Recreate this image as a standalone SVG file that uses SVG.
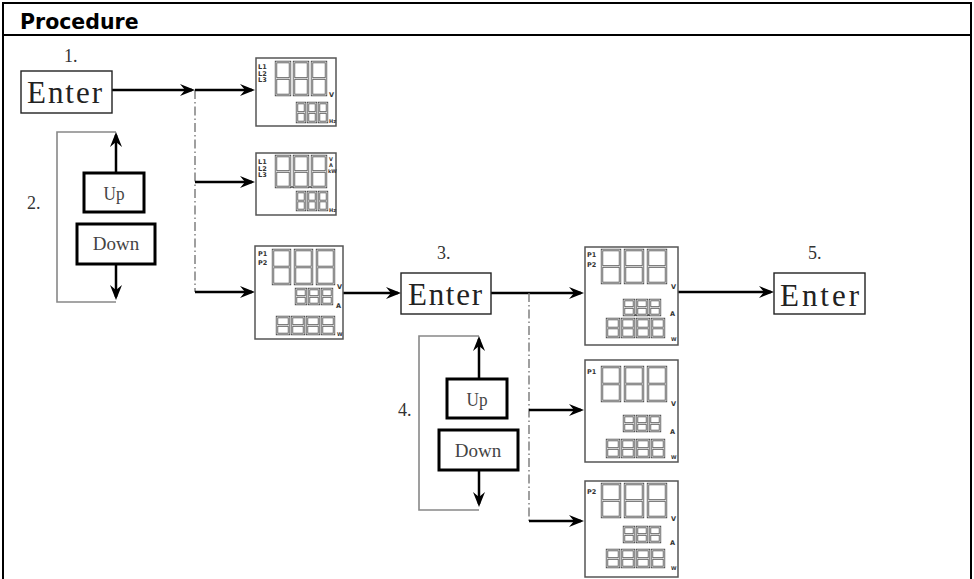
<svg xmlns="http://www.w3.org/2000/svg" xmlns:xlink="http://www.w3.org/1999/xlink" width="974" height="579" viewBox="0 0 974 579">
<defs>
<style>
.frame{fill:none;stroke:#000;stroke-width:2}
.hdr{font-family:"DejaVu Sans",Verdana,sans-serif;font-weight:bold;font-size:20.5px;fill:#000}
.num{font-family:"Liberation Serif","Times New Roman",serif;font-size:18px;fill:#333}
.ent{fill:#fff;stroke:#222;stroke-width:1.4}
.entt{font-family:"Liberation Serif","Times New Roman",serif;font-size:31px;fill:#222}
.btn{fill:#fff;stroke:#000;stroke-width:3}
.btnt{font-family:"Liberation Serif","Times New Roman",serif;font-size:19px;fill:#444;text-anchor:middle}
.disp{fill:#fff;stroke:#555;stroke-width:1.5}
.lbl{font-family:"DejaVu Sans",Verdana,sans-serif;font-weight:bold;font-size:6.5px;fill:#333}
.so{fill:none;stroke:#555;stroke-width:2.4;vector-effect:non-scaling-stroke}
.si{fill:none;stroke:#fff;stroke-width:0.7;vector-effect:non-scaling-stroke}
.dot{fill:#505050}
.arr{fill:none;stroke:#000;stroke-width:2.5;marker-end:url(#ah)}
.dd{fill:none;stroke:#777;stroke-width:1.4;stroke-dasharray:9 3 1.5 3}
.loop{fill:none;stroke:#888;stroke-width:1.6}
</style>
<marker id="ah" viewBox="0 0 15 12" markerWidth="15" markerHeight="12" refX="12" refY="6" orient="auto" markerUnits="userSpaceOnUse">
<path d="M0,0 L15,6 L0,12 L5,6 Z" fill="#000"/>
</marker>
<g id="dg"><path class="so" d="M0 0H1V1H0ZM0 .5H1"/><path class="si" d="M0 0H1V1H0ZM0 .5H1"/></g>
</defs>
<rect width="974" height="579" fill="#fff"/>
<g id="table">
<path class="frame" d="M3 579V3H971V579"/>
<path class="frame" d="M3 35H971"/>
<text class="hdr" x="20" y="29">Procedure</text>
</g>
<g id="labels">
<text class="num" x="64" y="62">1.</text>
<text class="num" x="27" y="209">2.</text>
<text class="num" x="437" y="259">3.</text>
<text class="num" x="398" y="416">4.</text>
<text class="num" x="808" y="259">5.</text>
</g>
<g id="connectors">
<path class="arr" d="M112 90H192"/>
<path class="dd" d="M195 90V292"/>
<path class="arr" d="M195 90H252"/>
<path class="arr" d="M195 182H252"/>
<path class="arr" d="M195 292H252"/>
<path class="arr" d="M343 293H398"/>
<path class="arr" d="M491 293H581"/>
<path class="dd" d="M529 293V521"/>
<path class="arr" d="M529 410H581"/>
<path class="arr" d="M529 521H581"/>
<path class="arr" d="M678 292H771"/>
<path class="loop" d="M116 132H57V302H116"/>
<path class="arr" d="M116 173V135"/>
<path class="arr" d="M116 264V297"/>
<path class="loop" d="M479 336H419V510H479"/>
<path class="arr" d="M479 379V339"/>
<path class="arr" d="M479 470V504"/>
</g>
<g id="enter1"><rect class="ent" x="21" y="71" width="91" height="42"/><text class="entt" x="27" y="103" textLength="75" lengthAdjust="spacing">Enter</text></g>
<g id="enter3"><rect class="ent" x="401" y="273" width="90" height="41"/><text class="entt" x="408" y="305" textLength="74" lengthAdjust="spacing">Enter</text></g>
<g id="enter5"><rect class="ent" x="774" y="273" width="91" height="41"/><text class="entt" x="780" y="306" textLength="79" lengthAdjust="spacing">Enter</text></g>
<g id="up2"><rect class="btn" x="84" y="173" width="60" height="39"/><text class="btnt" x="114" y="200" textLength="21" lengthAdjust="spacingAndGlyphs">Up</text></g>
<g id="down2"><rect class="btn" x="77" y="224" width="78" height="40"/><text class="btnt" x="116" y="250">Down</text></g>
<g id="up4"><rect class="btn" x="447" y="379" width="60" height="39"/><text class="btnt" x="477" y="406" textLength="21" lengthAdjust="spacingAndGlyphs">Up</text></g>
<g id="down4"><rect class="btn" x="439" y="430" width="79" height="40"/><text class="btnt" x="478" y="457">Down</text></g>
<g id="display1">
<rect class="disp" x="256" y="58" width="80" height="68"/>
<text class="lbl" x="258" y="69">L1</text><text class="lbl" x="258" y="75.5">L2</text><text class="lbl" x="258" y="82">L3</text>
<use href="#dg" transform="translate(276,62) scale(14,33)"/>
<use href="#dg" transform="translate(294,62) scale(14,33)"/>
<use href="#dg" transform="translate(312,62) scale(14,33)"/>
<text class="lbl" x="329" y="97">V</text>
<use href="#dg" transform="translate(297,103) scale(8,19)"/>
<use href="#dg" transform="translate(308,103) scale(8,19)"/>
<use href="#dg" transform="translate(319,103) scale(8,19)"/>
<text class="lbl" x="329" y="123" style="font-size:5px">Hz</text>
</g>
<g id="display2">
<rect class="disp" x="256" y="153" width="80" height="62"/>
<text class="lbl" x="258" y="164">L1</text><text class="lbl" x="258" y="170.5">L2</text><text class="lbl" x="258" y="177">L3</text>
<use href="#dg" transform="translate(276,156) scale(14,31)"/>
<use href="#dg" transform="translate(294,156) scale(14,31)"/>
<use href="#dg" transform="translate(312,156) scale(14,31)"/>
<circle class="dot" cx="292" cy="187" r="1"/><circle class="dot" cx="310" cy="187" r="1"/>
<text class="lbl" x="329" y="161" style="font-size:5px">V</text>
<text class="lbl" x="329" y="167" style="font-size:5px">A</text>
<text class="lbl" x="328" y="173" style="font-size:5px">kW</text>
<use href="#dg" transform="translate(297,192) scale(8,18)"/>
<use href="#dg" transform="translate(308,192) scale(8,18)"/>
<use href="#dg" transform="translate(319,192) scale(8,18)"/>
<text class="lbl" x="329" y="212" style="font-size:5px">Hz</text>
</g>
<g id="display3">
<rect class="disp" x="255" y="246" width="88" height="93"/>
<text class="lbl" x="258" y="256">P1</text><text class="lbl" x="258" y="265">P2</text>
<use href="#dg" transform="translate(273,250) scale(17,34)"/>
<use href="#dg" transform="translate(295,250) scale(17,34)"/>
<use href="#dg" transform="translate(317,250) scale(17,34)"/>
<text class="lbl" x="337" y="289">V</text>
<use href="#dg" transform="translate(296,289) scale(10,15)"/>
<use href="#dg" transform="translate(309,289) scale(10,15)"/>
<use href="#dg" transform="translate(322,289) scale(10,15)"/>
<text class="lbl" x="336" y="308">A</text>
<use href="#dg" transform="translate(277,317) scale(12,17)"/>
<use href="#dg" transform="translate(292,317) scale(12,17)"/>
<use href="#dg" transform="translate(307,317) scale(12,17)"/>
<use href="#dg" transform="translate(322,317) scale(12,17)"/>
<text class="lbl" x="337" y="336" style="font-size:5px">W</text>
</g>
<g id="display4">
<rect class="disp" x="585" y="247" width="93" height="98"/>
<text class="lbl" x="587" y="257">P1</text><text class="lbl" x="587" y="267">P2</text>
<use href="#dg" transform="translate(602,250) scale(18,33)"/>
<use href="#dg" transform="translate(625,250) scale(18,33)"/>
<use href="#dg" transform="translate(648,250) scale(18,33)"/>
<text class="lbl" x="671" y="289">V</text>
<use href="#dg" transform="translate(624,300) scale(10,15)"/>
<use href="#dg" transform="translate(637,300) scale(10,15)"/>
<use href="#dg" transform="translate(650,300) scale(10,15)"/>
<circle class="dot" cx="635.5" cy="315" r="0.9"/><circle class="dot" cx="648.5" cy="315" r="0.9"/>
<text class="lbl" x="670" y="316">A</text>
<use href="#dg" transform="translate(607,319) scale(12,18)"/>
<use href="#dg" transform="translate(622,319) scale(12,18)"/>
<use href="#dg" transform="translate(637,319) scale(12,18)"/>
<use href="#dg" transform="translate(652,319) scale(12,18)"/>
<text class="lbl" x="671" y="341" style="font-size:5px">W</text>
</g>
<g id="display5">
<rect class="disp" x="585" y="360" width="93" height="102"/>
<text class="lbl" x="587" y="374">P1</text>
<use href="#dg" transform="translate(602,367) scale(18,34)"/>
<use href="#dg" transform="translate(625,367) scale(18,34)"/>
<use href="#dg" transform="translate(648,367) scale(18,34)"/>
<text class="lbl" x="671" y="406">V</text>
<use href="#dg" transform="translate(624,416) scale(10,15)"/>
<use href="#dg" transform="translate(637,416) scale(10,15)"/>
<use href="#dg" transform="translate(650,416) scale(10,15)"/>
<text class="lbl" x="670" y="434">A</text>
<use href="#dg" transform="translate(607,440) scale(12,17)"/>
<use href="#dg" transform="translate(622,440) scale(12,17)"/>
<use href="#dg" transform="translate(637,440) scale(12,17)"/>
<use href="#dg" transform="translate(652,440) scale(12,17)"/>
<text class="lbl" x="671" y="459" style="font-size:5px">W</text>
</g>
<g id="display6">
<rect class="disp" x="585" y="481" width="93" height="96"/>
<text class="lbl" x="587" y="494">P2</text>
<use href="#dg" transform="translate(602,484) scale(18,33)"/>
<use href="#dg" transform="translate(625,484) scale(18,33)"/>
<use href="#dg" transform="translate(648,484) scale(18,33)"/>
<text class="lbl" x="671" y="521">V</text>
<use href="#dg" transform="translate(624,527) scale(10,15)"/>
<use href="#dg" transform="translate(637,527) scale(10,15)"/>
<use href="#dg" transform="translate(650,527) scale(10,15)"/>
<text class="lbl" x="670" y="545">A</text>
<use href="#dg" transform="translate(607,550) scale(12,17)"/>
<use href="#dg" transform="translate(622,550) scale(12,17)"/>
<use href="#dg" transform="translate(637,550) scale(12,17)"/>
<use href="#dg" transform="translate(652,550) scale(12,17)"/>
<text class="lbl" x="671" y="570" style="font-size:5px">W</text>
</g>
</svg>
